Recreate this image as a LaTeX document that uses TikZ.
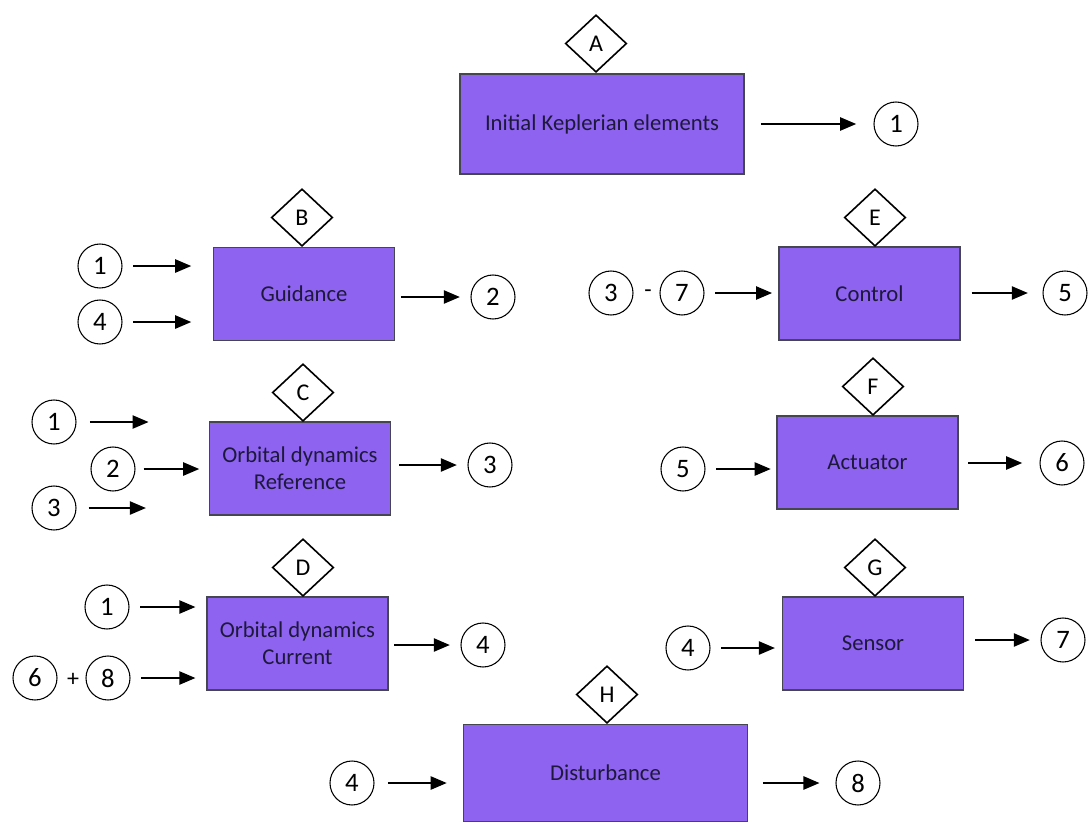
\documentclass[tikz,border=0pt]{standalone}
\usepackage{fontspec}
\setmainfont{Carlito}
\usetikzlibrary{shapes.geometric,arrows.meta}
\definecolor{blockfill}{RGB}{141,99,239}
\definecolor{blockline}{RGB}{70,70,80}
\definecolor{blocktext}{RGB}{30,24,60}
\tikzset{
  block/.style={draw=blockline, line width=1.2pt, fill=blockfill, text=blocktext,
    minimum width=136pt, minimum height=70pt, align=center,
    font=\fontsize{17}{20}\selectfont},
  wideblock/.style={block, minimum width=213pt, minimum height=75pt},
  tag/.style={draw, diamond, line width=1.2pt, fill=white, minimum width=46pt,
    minimum height=43pt, inner sep=0pt, anchor=south, font=\fontsize{18}{18}\selectfont},
  num/.style={draw, circle, line width=0.8pt, minimum size=33pt, inner sep=0pt,
    font=\fontsize{20}{20}\selectfont},
  flow/.style={draw, line width=1pt, -{Triangle[length=12pt,width=10pt]},
    shorten <=8pt, shorten >=8pt},
}
\begin{document}
\begin{tikzpicture}[x=0.75pt,y=-0.75pt]
\useasboundingbox (0,0) rectangle (1089,825);
% blocks
\node[wideblock] (A) at (602,124) {Initial Keplerian elements};
\node[block] (B) at (304,294) {Guidance};
\node[block] (C) at (300,468.5) {Orbital dynamics\\Reference};
\node[block] (D) at (297.5,643.5) {Orbital dynamics\\Current};
\node[block] (E) at (869.5,293.5) {Control};
\node[block] (F) at (867.5,462.5) {Actuator};
\node[block] (G) at (873,643.5) {Sensor};
\node[wideblock, minimum height=73pt] (H) at (605.5,773) {Disturbance};
% diamond tags
\node[tag] (tA) at (596,73) {A};
\node[tag] (tB) at (302,247) {B};
\node[tag] (tC) at (303,422) {C};
\node[tag] (tD) at (303,597) {D};
\node[tag] (tE) at (875,247) {E};
\node[tag] (tF) at (873,416) {F};
\node[tag] (tG) at (875,597) {G};
\node[tag] (tH) at (607,724) {H};
% signal numbers
\node[num] (a1) at (896,124) {1};
\node[num] (b1) at (100,266) {1};
\node[num] (b4) at (100,322) {4};
\node[num] (b2) at (493,297) {2};
\node[num] (c1) at (54,422) {1};
\node[num] (c2) at (113,469) {2};
\node[num] (c3) at (54,508) {3};
\node[num] (c3o) at (490,465) {3};
\node[num] (d1) at (107,607) {1};
\node[num] (d6) at (35,678) {6};
\node[font=\fontsize{18}{18}\selectfont] (dplus) at (73,680) {+};
\node[num] (d8) at (108,678) {8};
\node[num] (d4) at (483,645) {4};
\node[num] (e3) at (611,293) {3};
\node[font=\fontsize{18}{18}\selectfont] (eminus) at (648,294) {-};
\node[num] (e7) at (682,293) {7};
\node[num] (e5) at (1065,293) {5};
\node[num] (f5) at (683,469) {5};
\node[num] (f6) at (1062,463) {6};
\node[num] (g4) at (688,648) {4};
\node[num] (g7) at (1063,640) {7};
\node[num] (h4) at (352,783) {4};
\node[num] (h8) at (858,783) {8};
% signal flow
\path[flow,shorten <=12pt,shorten >=13pt] (A) -- (a1);
\path[flow,shorten >=16pt] (b1) -- (b1 -| B.west);
\path[flow,shorten >=16pt] (b4) -- (b4 -| B.west);
\path[flow,shorten <=4pt] (B.east |- b2) -- (b2);
\path[flow,shorten <=10pt,shorten >=45pt] (c1) -- (c1 -| C.west);
\path[flow,shorten <=6pt,shorten >=7pt] (c2) -- (c2 -| C.west);
\path[flow,shorten <=9pt,shorten >=47pt] (c3) -- (c3 -| C.west);
\path[flow,shorten <=6pt] (C.east |- c3o) -- (c3o);
\path[flow] (d1) -- (d1 -| D.west);
\path[flow] (d8) -- (d8 -| D.west);
\path[flow,shorten <=4pt] (D.east |- d4) -- (d4);
\path[flow,shorten >=4.5pt] (e7) -- (e7 -| E.west);
\path[flow,shorten >=11pt] (E.east |- e5) -- (e5);
\path[flow,shorten >=4pt] (f5) -- (f5 -| F.west);
\path[flow,shorten <=7pt,shorten >=13pt] (F.east |- f6) -- (f6);
\path[flow,shorten >=5pt] (g4) -- (g4 -| G.west);
\path[flow] (G.east |- g7) -- (g7);
\path[flow,shorten <=10pt,shorten >=12pt] (h4) -- (h4 -| H.west);
\path[flow,shorten <=11pt,shorten >=12pt] (H.east |- h8) -- (h8);
\end{tikzpicture}
\end{document}
